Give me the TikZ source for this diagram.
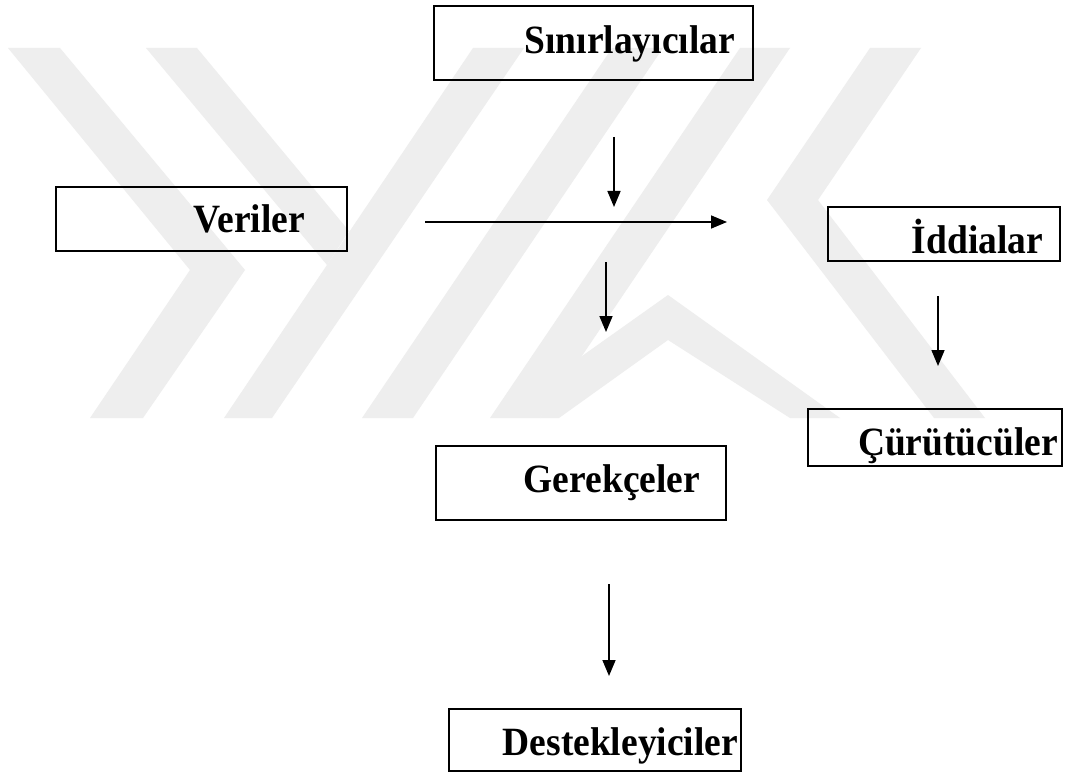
\documentclass[tikz,border=0pt]{standalone}
\usepackage{fontspec}
\setmainfont{Liberation Serif}
\usetikzlibrary{arrows.meta}
\definecolor{wm}{HTML}{EEEEEE}
\begin{document}
\begin{tikzpicture}[x=1pt,y=-1pt,
  box/.style={draw=black,line width=2pt,rectangle,inner sep=0pt,outer sep=0pt},
  lbl/.style={inner sep=0pt,outer sep=0pt,anchor=base east,font=\fontsize{37.5}{44}\selectfont\bfseries},
  arr/.style={line width=1.6pt,-{Triangle[length=16pt,width=13pt]}},
  wmark/.style={fill=wm,draw=none}]
\useasboundingbox (0,0) rectangle (1066,773);
\fill[white] (0,0) rectangle (1066,773);
% faint watermark
\fill[wmark] (8,48) -- (60,48) -- (245,270) -- (143,418) -- (90,418) -- (190,270) -- cycle;
\fill[wmark] (146,48) -- (197,48) -- (349,231) -- (327,265) -- cycle;
\fill[wmark] (473,48) -- (524,48) -- (272,418) -- (224,418) -- cycle;
\fill[wmark] (612,48) -- (663,48) -- (413,418) -- (362,418) -- cycle;
\fill[wmark] (740,48) -- (790,48) -- (540,418) -- (490,418) -- cycle;
\fill[wmark] (870,48) -- (921,48) -- (818,200) -- (767,200) -- cycle;
\fill[wmark] (767,200) -- (818,200) -- (985,418) -- (934,418) -- cycle;
\fill[wmark] (575,361) -- (668,295) -- (840,418) -- (790,418) -- (668,340) -- (559,418) -- (540,418) -- cycle;
% boxes
\node[box,minimum width=319pt,minimum height=74pt] (sin) at (593.5,43) {};
\node[box,minimum width=291pt,minimum height=64pt] (ver) at (201.5,219) {};
\node[box,minimum width=232pt,minimum height=54pt] (idd) at (944,234) {};
\node[box,minimum width=254pt,minimum height=57pt] (cur) at (935,437.5) {};
\node[box,minimum width=290pt,minimum height=74pt] (ger) at (581,483) {};
\node[box,minimum width=292pt,minimum height=62pt] (des) at (595,740) {};
% labels
\node[lbl] (tsin) at (735,54) {\scalebox{1}[1.07]{Sınırlayıcılar}};
\node[lbl] (tver) at (305,233) {\scalebox{1}[1.07]{Veriler}};
\node[lbl] (tidd) at (1043,253) {\scalebox{1}[1.07]{İddialar}};
\node[lbl] (tcur) at (1058,455) {\scalebox{1}[1.07]{Çürütücüler}};
\node[lbl] (tger) at (700,492) {\scalebox{1}[1.07]{Gerekçeler}};
\node[lbl] (tdes) at (738,755) {\scalebox{1}[1.07]{Destekleyiciler}};
% arrow end points
\coordinate (a1s) at (614,137); \coordinate (a1e) at (614,207);
\coordinate (hs) at (425,222);  \coordinate (he) at (727,222);
\coordinate (a2s) at (606,262); \coordinate (a2e) at (606,332);
\coordinate (a3s) at (938,296); \coordinate (a3e) at (938,366);
\coordinate (a4s) at (609,584); \coordinate (a4e) at (609,676);
\draw[arr] (a1s) -- (a1e);
\draw[arr] (hs) -- (he);
\draw[arr] (a2s) -- (a2e);
\draw[arr] (a3s) -- (a3e);
\draw[arr] (a4s) -- (a4e);
\end{tikzpicture}
\end{document}
